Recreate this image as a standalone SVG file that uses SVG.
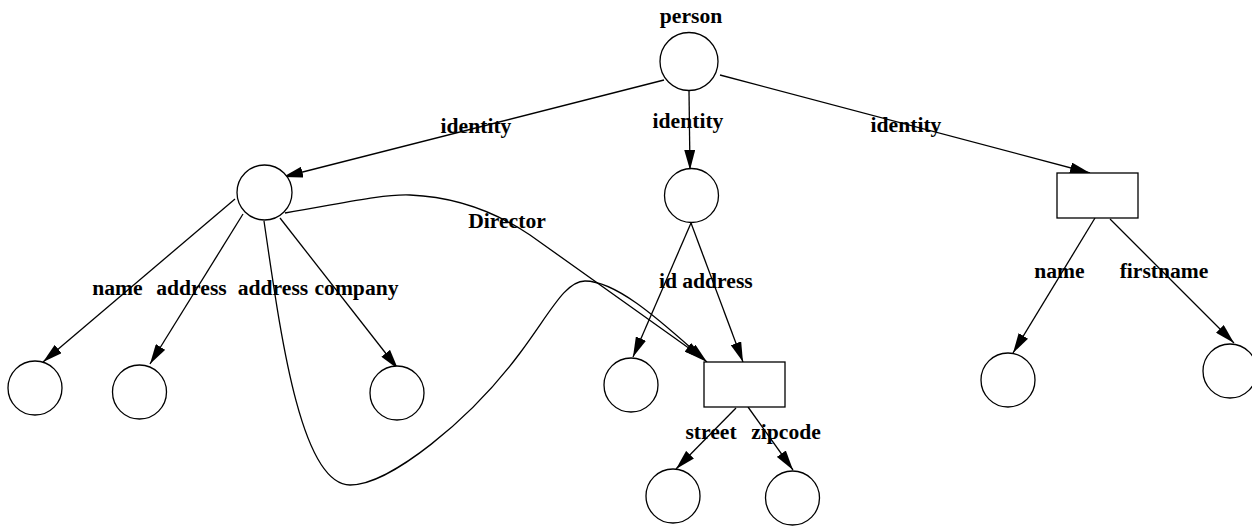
<svg xmlns="http://www.w3.org/2000/svg" width="1252" height="527" viewBox="0 0 1252 527">
<style>
.n{fill:#fff;stroke:#000;stroke-width:1.3}
.e{fill:none;stroke:#000;stroke-width:1.3}
.t{font-family:"Liberation Serif","Times New Roman",serif;font-weight:bold;font-size:21.6px;fill:#000;text-anchor:middle}
</style>
<defs>
<marker id="a" viewBox="0 0 20 11" refX="20" refY="5.5" markerWidth="20" markerHeight="11" markerUnits="userSpaceOnUse" orient="auto">
<path d="M0,0 L20,5.5 L0,11 z" fill="#000"/>
</marker>
</defs>
<rect width="1252" height="527" fill="#fff"/>
<g id="connectors">
<path class="e" marker-end="url(#a)" d="M664,80 L283,177"/>
<path class="e" marker-end="url(#a)" d="M689,91 L690,170"/>
<path class="e" marker-end="url(#a)" d="M720,75 L1090,173"/>
<path class="e" marker-end="url(#a)" d="M235,199 L43,362"/>
<path class="e" marker-end="url(#a)" d="M243,214 L150,364"/>
<path class="e" marker-end="url(#a)" d="M280,218 L398,369"/>
<path class="e" marker-end="url(#a)" d="M264,221 C280,330 300,485 350,485 C390,485 470,420 520,353 C550,313 565,281 585,281 C620,281 670,330 707,362"/>
<path class="e" marker-end="url(#a)" d="M285,213 C340,204 380,194 410,195 C460,197 500,215 530,235 C600,285 650,320 704,359"/>
<path class="e" marker-end="url(#a)" d="M691,223 L633,357"/>
<path class="e" marker-end="url(#a)" d="M691,223 L743,362"/>
<path class="e" marker-end="url(#a)" d="M736,408 L676,469"/>
<path class="e" marker-end="url(#a)" d="M748,407 L793,470"/>
<path class="e" marker-end="url(#a)" d="M1095,218 L1013,353"/>
<path class="e" marker-end="url(#a)" d="M1110,219 L1234,343"/>
</g>
<g id="labels">
<text class="t" x="476" y="133">identity</text>
<text class="t" x="688" y="128">identity</text>
<text class="t" x="906" y="132">identity</text>
<text class="t" x="507" y="228">Director</text>
<text class="t" x="117.5" y="295">name</text>
<text class="t" x="191.5" y="295">address</text>
<text class="t" x="273" y="295">address</text>
<text class="t" x="356.5" y="295">company</text>
<text class="t" x="668" y="288">id</text>
<text class="t" x="717.5" y="288">address</text>
<text class="t" x="711" y="439">street</text>
<text class="t" x="786" y="439">zipcode</text>
<text class="t" x="1059.5" y="278">name</text>
<text class="t" x="1164" y="278">firstname</text>
</g>
<g id="person"><circle class="n" cx="689" cy="61.5" r="29"/><text class="t" x="691" y="23">person</text></g>
<g id="identity1"><circle class="n" cx="264.5" cy="192.5" r="27.5"/></g>
<g id="identity2"><circle class="n" cx="691.5" cy="195.5" r="27"/></g>
<g id="identity3"><rect class="n" x="1057" y="173" width="81" height="45"/></g>
<g id="name1"><circle class="n" cx="35" cy="388" r="27"/></g>
<g id="address1"><circle class="n" cx="139.5" cy="392" r="27"/></g>
<g id="company"><circle class="n" cx="397" cy="393" r="27"/></g>
<g id="id"><circle class="n" cx="631" cy="385" r="27"/></g>
<g id="address"><rect class="n" x="704" y="362" width="81" height="45"/></g>
<g id="street"><circle class="n" cx="673" cy="496" r="27"/></g>
<g id="zipcode"><circle class="n" cx="792.5" cy="498" r="27"/></g>
<g id="name2"><circle class="n" cx="1008" cy="380" r="27"/></g>
<g id="firstname"><circle class="n" cx="1230" cy="371" r="27"/></g>
</svg>
